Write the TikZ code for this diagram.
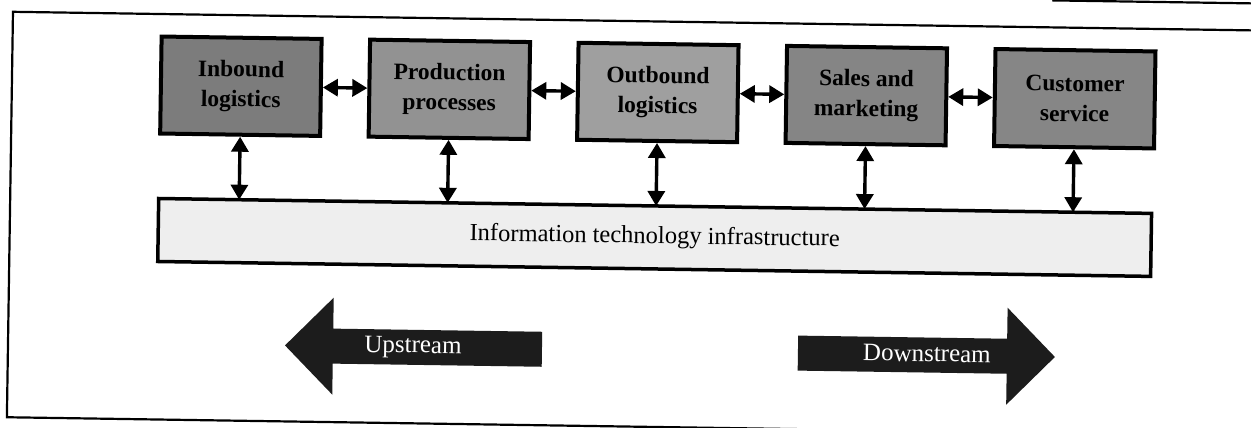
\documentclass[tikz,border=0pt]{standalone}
\usepackage{fontspec}
\setmainfont{Liberation Serif}
\usetikzlibrary{arrows.meta}

\definecolor{inboundfill}{HTML}{7C7C7C}
\definecolor{prodfill}{HTML}{929292}
\definecolor{outfill}{HTML}{9F9F9F}
\definecolor{salesfill}{HTML}{858585}
\definecolor{servicefill}{HTML}{868686}
\definecolor{barfill}{HTML}{EEEEEE}
\definecolor{inkgray}{HTML}{1C1C1C}

\tikzset{
  stage/.style={draw=black, line width=4pt, minimum width=160pt,
    minimum height=97pt, inner sep=0pt, align=center,
    font=\fontsize{23.5}{30}\selectfont\bfseries, transform shape},
  infra/.style={draw=black, line width=3.5pt, fill=barfill,
    minimum width=993pt, minimum height=63pt, inner sep=0pt,
    font=\fontsize{24.5}{28}\selectfont, transform shape},
  link/.style={line width=3.4pt,
    {Triangle[length=15pt,width=17pt]}-{Triangle[length=15pt,width=17pt]}},
  flow/.style={fill=inkgray},
  flowtext/.style={text=white, inner sep=0pt,
    font=\fontsize{25}{28}\selectfont, transform shape},
  frameline/.style={line width=2.2pt}
}

\begin{document}
\begin{tikzpicture}[x=1pt,y=-1pt]
\useasboundingbox (0,0) rectangle (1251,428);
\clip (0,0) rectangle (1251,428);
\fill[white] (0,0) rectangle (1251,428);

\begin{scope}[rotate around={-0.86:(625,214)}]
  % outer frame (open to the right) and neighbouring rule
  \draw[frameline] (1300,21) -- (10,21) -- (10,426.5) -- (1300,426.5);
  \draw[frameline] (1049,-6) -- (1300,-6);

  % value chain stages
  \node[stage, fill=inboundfill] (inb)  at (239,92)   {Inbound\\logistics};
  \node[stage, fill=prodfill]    (prod) at (447.5,92) {Production\\processes};
  \node[stage, fill=outfill]     (outb) at (656,92)   {Outbound\\logistics};
  \node[stage, fill=salesfill]   (sale) at (864.5,92) {Sales and\\marketing};
  \node[stage, fill=servicefill] (serv) at (1073,92)  {Customer\\service};

  % infrastructure bar
  \node[infra] (it) at (655,237) {Information technology infrastructure};

  % attachment points on the top edge of the bar
  \coordinate (inbIT)  at (239,205.5);
  \coordinate (prodIT) at (447.5,205.5);
  \coordinate (outbIT) at (656,205.5);
  \coordinate (saleIT) at (864.5,205.5);
  \coordinate (servIT) at (1073,205.5);

  % links between neighbouring stages
  \draw[link] (inb.east)  -- (prod.west);
  \draw[link] (prod.east) -- (outb.west);
  \draw[link] (outb.east) -- (sale.west);
  \draw[link] (sale.east) -- (serv.west);

  % links from each stage to the infrastructure
  \draw[link] (inb.south)  -- (inbIT);
  \draw[link] (prod.south) -- (prodIT);
  \draw[link] (outb.south) -- (outbIT);
  \draw[link] (sale.south) -- (saleIT);
  \draw[link] (serv.south) -- (servIT);

  % direction arrows
  \fill[flow] (287,350.5) -- (335,302) -- (335,333) -- (544,333)
    -- (544,368) -- (335,368) -- (335,399) -- cycle;
  \fill[flow] (1057,350.5) -- (1009,302) -- (1009,333) -- (800,333)
    -- (800,368) -- (1009,368) -- (1009,399) -- cycle;
  \node[flowtext] (up)   at (415,350.5) {Upstream};
  \node[flowtext] (down) at (929,349)   {Downstream};
\end{scope}
\end{tikzpicture}
\end{document}
